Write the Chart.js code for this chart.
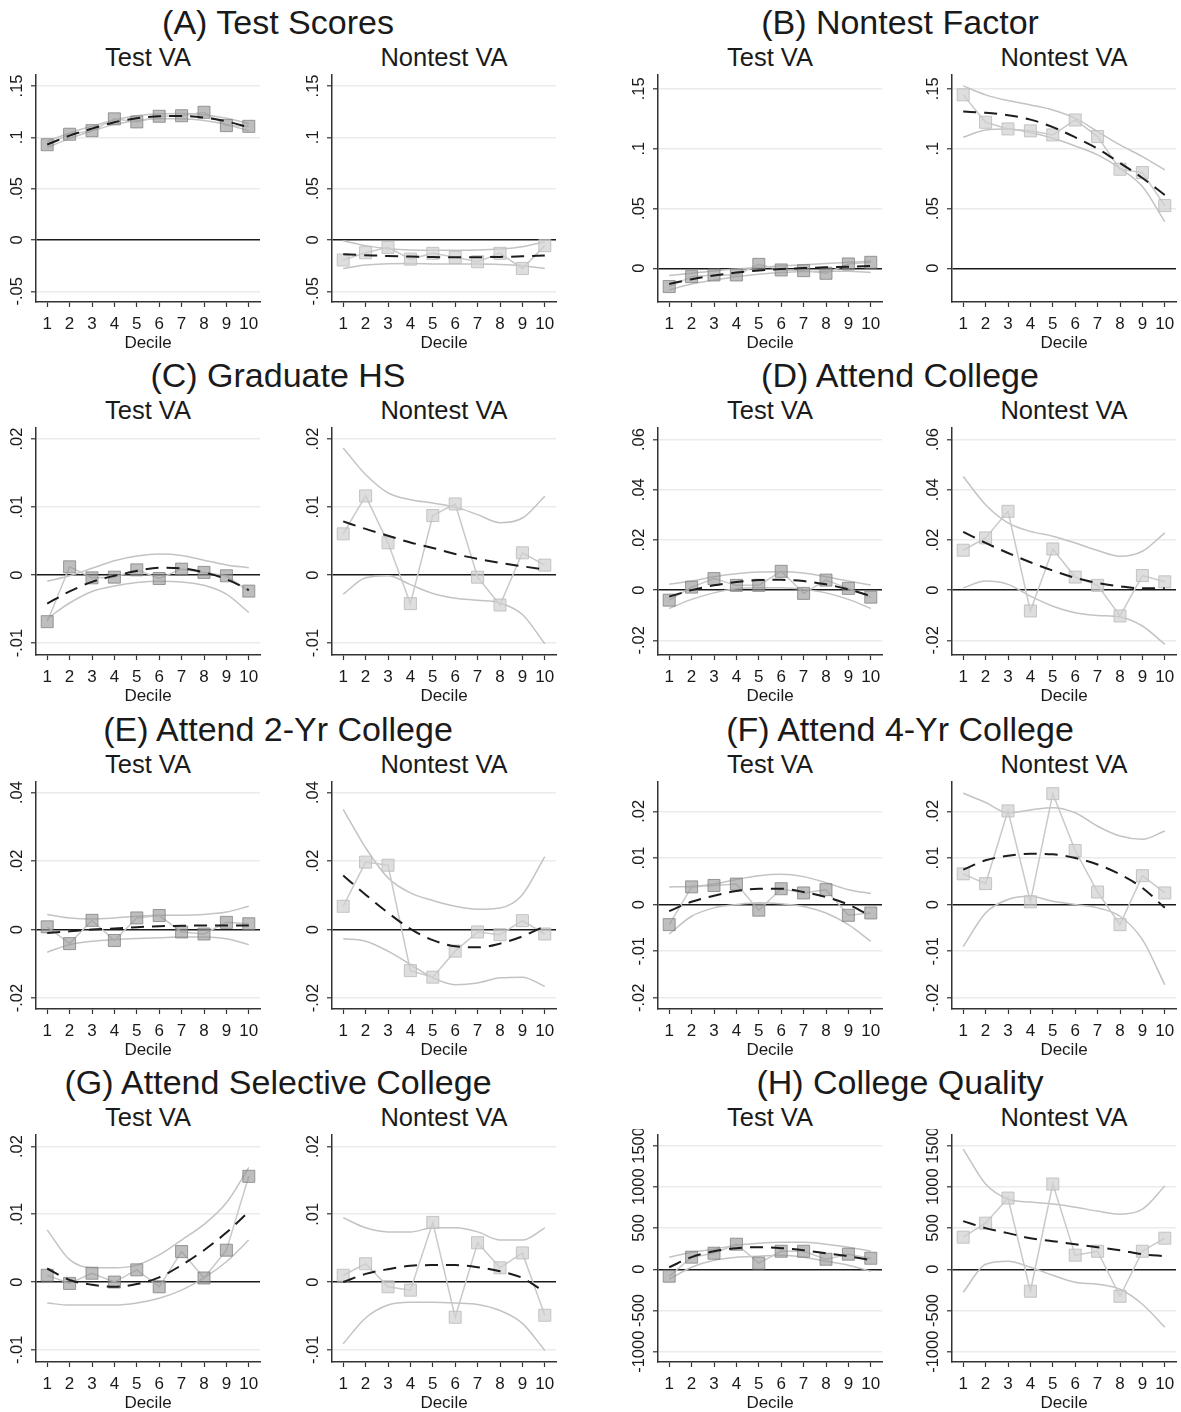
<!DOCTYPE html>
<html>
<head>
<meta charset="utf-8">
<script src="https://cdn.jsdelivr.net/npm/chart.js@4.4.1/dist/chart.umd.min.js"></script>
<style>
  html, body { margin: 0; padding: 0; background: #fff; }
  #page { position: relative; width: 1181px; height: 1412px; overflow: hidden;
          font-family: "Liberation Sans", Arial, sans-serif; color: #1a1a1a; }
  .ttl, .sub { position: absolute; white-space: nowrap; line-height: 1; transform: translate(-50%, -50%); }
  .ttl { font-size: 34px; }
  .sub { font-size: 25.5px; }
  .box { position: absolute; }
  .box canvas { display: block; }
</style>
</head>
<body>
<div id="page"></div>
<script>
// x categories
const deciles = [1, 2, 3, 4, 5, 6, 7, 8, 9, 10];

// (A) Test Scores
const aTicks = [-0.05, 0, 0.05, 0.1, 0.15];
const aTickLabels = ['-.05', '0', '.05', '.1', '.15'];
const aTestPts = [0.0928, 0.1030, 0.1065, 0.1180, 0.1150, 0.1205, 0.1210, 0.1244, 0.1114, 0.1107];
const aTestFit = [0.0930, 0.1016, 0.1085, 0.1147, 0.1186, 0.1205, 0.1207, 0.1192, 0.1155, 0.1098];
const aTestHi  = [0.0960, 0.1042, 0.1108, 0.1168, 0.1210, 0.1230, 0.1233, 0.1220, 0.1185, 0.1133];
const aTestLo  = [0.0900, 0.0990, 0.1062, 0.1126, 0.1162, 0.1180, 0.1181, 0.1164, 0.1125, 0.1063];
const aNonPts = [-0.0195, -0.0124, -0.0072, -0.0186, -0.0130, -0.0169, -0.0212, -0.0130, -0.0277, -0.0055];
const aNonFit = [-0.0140, -0.0148, -0.0156, -0.0162, -0.0166, -0.0168, -0.0168, -0.0165, -0.0159, -0.0150];
const aNonHi  = [-0.0007, -0.0055, -0.0085, -0.0098, -0.0100, -0.0100, -0.0098, -0.0088, -0.0065, -0.0016];
const aNonLo  = [-0.0277, -0.0244, -0.0231, -0.0230, -0.0233, -0.0235, -0.0235, -0.0238, -0.0250, -0.0277];

// (B) Nontest Factor
const bTicks = [0, 0.05, 0.1, 0.15];
const bTickLabels = ['0', '.05', '.1', '.15'];
const bTestPts = [-0.0153, -0.0070, -0.0056, -0.0056, 0.0033, -0.0014, -0.0020, -0.0042, 0.0036, 0.0050];
const bTestFit = [-0.0131, -0.0092, -0.0061, -0.0036, -0.0018, -0.0006, 0.0002, 0.0008, 0.0013, 0.0020];
const bTestHi  = [-0.0061, -0.0042, -0.0022, -0.0006, 0.0008, 0.0020, 0.0030, 0.0039, 0.0050, 0.0061];
const bTestLo  = [-0.0181, -0.0131, -0.0098, -0.0070, -0.0050, -0.0036, -0.0028, -0.0025, -0.0025, -0.0036];
const bNonPts = [0.1450, 0.1221, 0.1165, 0.1149, 0.1115, 0.1240, 0.1101, 0.0828, 0.0800, 0.0524];
const bNonFit = [0.1310, 0.1300, 0.1280, 0.1243, 0.1180, 0.1095, 0.1000, 0.0880, 0.0755, 0.0613];
const bNonHi  = [0.1525, 0.1450, 0.1402, 0.1366, 0.1324, 0.1255, 0.1143, 0.1031, 0.0934, 0.0822];
const bNonLo  = [0.1096, 0.1157, 0.1165, 0.1135, 0.1087, 0.1023, 0.0948, 0.0836, 0.0683, 0.0390];

// (C) Graduate HS
const cTicks = [-0.01, 0, 0.01, 0.02];
const cTickLabels = ['-.01', '0', '.01', '.02'];
const cTestPts = [-0.00685, 0.00122, -0.0004, -0.0003, 0.00078, -0.0005, 0.00088, 0.0004, -0.0001, -0.00235];
const cTestFit = [-0.0042, -0.0024, -0.0010, -0.0001, 0.0006, 0.0011, 0.0010, 0.0004, -0.0006, -0.0022];
const cTestHi  = [-0.0009, -0.0001, 0.0010, 0.0021, 0.0028, 0.0031, 0.0029, 0.0022, 0.0015, 0.0011];
const cTestLo  = [-0.0064, -0.0041, -0.0024, -0.0016, -0.0011, -0.0009, -0.0010, -0.0015, -0.0028, -0.0055];
const cNonPts = [0.00607, 0.01165, 0.00475, -0.0042, 0.00876, 0.01047, -0.0003, -0.0044, 0.00328, 0.00147];
const cNonFit = [0.0079, 0.0068, 0.0058, 0.0048, 0.0040, 0.0031, 0.0024, 0.0018, 0.0013, 0.0008];
const cNonHi  = [0.0187, 0.0148, 0.0121, 0.0111, 0.0106, 0.0100, 0.0089, 0.0077, 0.0084, 0.0116];
const cNonLo  = [-0.0028, -0.0004, -0.0001, -0.0014, -0.0027, -0.0034, -0.0037, -0.0041, -0.0058, -0.0101];

// (D) Attend College
const dTicks = [-0.02, 0, 0.02, 0.04, 0.06];
const dTickLabels = ['-.02', '0', '.02', '.04', '.06'];
const dTestPts = [-0.0040, 0.0012, 0.0046, 0.0019, 0.0019, 0.0075, -0.0013, 0.0040, 0.0007, -0.0028];
const dTestFit = [-0.0026, 0.0000, 0.0019, 0.0032, 0.0040, 0.0041, 0.0036, 0.0023, 0.0003, -0.0024];
const dTestHi  = [0.0023, 0.0036, 0.0053, 0.0065, 0.0072, 0.0073, 0.0068, 0.0053, 0.0036, 0.0020];
const dTestLo  = [-0.0073, -0.0037, -0.0011, 0.0005, 0.0009, 0.0009, 0.0003, -0.0011, -0.0037, -0.0073];
const dNonPts = [0.0159, 0.0208, 0.0314, -0.0083, 0.0164, 0.0052, 0.0019, -0.0103, 0.0058, 0.0033];
const dNonFit = [0.0232, 0.0188, 0.0148, 0.0111, 0.0078, 0.0049, 0.0028, 0.0015, 0.0007, 0.0007];
const dNonHi  = [0.0453, 0.0340, 0.0268, 0.0234, 0.0215, 0.0188, 0.0158, 0.0135, 0.0155, 0.0228];
const dNonLo  = [0.0009, 0.0036, 0.0023, -0.0024, -0.0064, -0.0090, -0.0101, -0.0107, -0.0143, -0.0216];

// (E) Attend 2-Yr College
const eTicks = [-0.02, 0, 0.02, 0.04];
const eTickLabels = ['-.02', '0', '.02', '.04'];
const eTestPts = [0.0008, -0.0041, 0.0027, -0.0032, 0.0034, 0.0041, -0.0007, -0.0013, 0.0021, 0.0017];
const eTestFit = [-0.0010, -0.0005, 0.0000, 0.0003, 0.0007, 0.0010, 0.0011, 0.0012, 0.0012, 0.0012];
const eTestHi  = [0.0044, 0.0034, 0.0031, 0.0034, 0.0039, 0.0042, 0.0042, 0.0044, 0.0051, 0.0068];
const eTestLo  = [-0.0066, -0.0044, -0.0034, -0.0029, -0.0026, -0.0024, -0.0022, -0.0022, -0.0027, -0.0044];
const eNonPts = [0.0068, 0.0197, 0.0188, -0.0120, -0.0139, -0.0063, -0.0007, -0.0015, 0.0026, -0.0013];
const eNonFit = [0.0158, 0.0102, 0.0049, 0.0002, -0.0031, -0.0049, -0.0052, -0.0041, -0.0020, 0.0010];
const eNonHi  = [0.0351, 0.0239, 0.0151, 0.0107, 0.0085, 0.0068, 0.0059, 0.0063, 0.0102, 0.0213];
const eNonLo  = [-0.0027, -0.0034, -0.0063, -0.0102, -0.0141, -0.0161, -0.0156, -0.0141, -0.0139, -0.0166];

// (F) Attend 4-Yr College
const fTicks = [-0.02, -0.01, 0, 0.01, 0.02];
const fTickLabels = ['-.02', '-.01', '0', '.01', '.02'];
const fTestPts = [-0.0043, 0.0038, 0.0041, 0.0044, -0.0012, 0.0034, 0.0025, 0.0032, -0.0023, -0.0018];
const fTestFit = [-0.0014, 0.0006, 0.0019, 0.0029, 0.0034, 0.0034, 0.0027, 0.0016, 0.0000, -0.0025];
const fTestHi  = [0.0038, 0.0039, 0.0044, 0.0054, 0.0062, 0.0065, 0.0060, 0.0047, 0.0032, 0.0024];
const fTestLo  = [-0.0063, -0.0025, -0.0007, 0.0000, 0.0004, 0.0002, -0.0004, -0.0018, -0.0043, -0.0079];
const fNonPts = [0.0066, 0.0045, 0.0201, 0.0006, 0.0238, 0.0116, 0.0027, -0.0043, 0.0062, 0.0025];
const fNonFit = [0.0075, 0.0095, 0.0105, 0.0109, 0.0108, 0.0100, 0.0086, 0.0065, 0.0036, -0.0007];
const fNonHi  = [0.0239, 0.0219, 0.0197, 0.0203, 0.0208, 0.0197, 0.0168, 0.0147, 0.0140, 0.0158];
const fNonLo  = [-0.0090, -0.0018, 0.0011, 0.0018, 0.0007, 0.0000, -0.0007, -0.0025, -0.0075, -0.0172];

// (G) Attend Selective College
const gTicks = [-0.01, 0, 0.01, 0.02];
const gTickLabels = ['-.01', '0', '.01', '.02'];
const gTestPts = [0.0010, -0.0002, 0.0013, 0.0000, 0.0018, -0.0007, 0.0045, 0.0006, 0.0047, 0.0156];
const gTestFit = [0.0020, 0.0003, -0.0004, -0.0007, -0.0003, 0.0007, 0.0025, 0.0047, 0.0073, 0.0104];
const gTestHi  = [0.0077, 0.0033, 0.0021, 0.0021, 0.0025, 0.0040, 0.0062, 0.0085, 0.0117, 0.0169];
const gTestLo  = [-0.0031, -0.0034, -0.0034, -0.0034, -0.0031, -0.0024, -0.0012, 0.0006, 0.0030, 0.0062];
const gNonPts = [0.0010, 0.0027, -0.0007, -0.0012, 0.0088, -0.0052, 0.0058, 0.0021, 0.0043, -0.0049];
const gNonFit = [0.0000, 0.0012, 0.0019, 0.0024, 0.0025, 0.0025, 0.0022, 0.0016, 0.0006, -0.0015];
const gNonHi  = [0.0095, 0.0080, 0.0074, 0.0074, 0.0080, 0.0080, 0.0074, 0.0062, 0.0062, 0.0080];
const gNonLo  = [-0.0091, -0.0053, -0.0034, -0.0030, -0.0030, -0.0031, -0.0033, -0.0042, -0.0061, -0.0101];

// (H) College Quality
const hTicks = [-1000, -500, 0, 500, 1000, 1500];
const hTickLabels = ['-1000', '-500', '0', '500', '1000', '1500'];
const hTestPts = [-85, 146, 194, 303, 73, 218, 218, 121, 182, 133];
const hTestFit = [24, 146, 218, 255, 267, 255, 230, 194, 158, 109];
const hTestHi  = [146, 206, 243, 291, 316, 328, 328, 303, 267, 218];
const hTestLo  = [-121, 24, 109, 146, 158, 170, 146, 97, 49, -24];
const hNonPts = [388, 558, 862, -267, 1032, 170, 218, -328, 218, 376];
const hNonFit = [583, 498, 437, 376, 340, 303, 267, 230, 182, 158];
const hNonHi  = [1456, 1032, 850, 813, 789, 752, 704, 667, 728, 1007];
const hNonLo  = [-279, 61, 97, 24, -73, -158, -182, -243, -425, -704];

const groups = [
  { title: '(A) Test Scores', ticks: aTicks, labels: aTickLabels, yMin: -0.0604, yMax: 0.1607,
    test: [aTestPts, aTestFit, aTestHi, aTestLo], non: [aNonPts, aNonFit, aNonHi, aNonLo] },
  { title: '(B) Nontest Factor', ticks: bTicks, labels: bTickLabels, yMin: -0.0282, yMax: 0.1616,
    test: [bTestPts, bTestFit, bTestHi, bTestLo], non: [bNonPts, bNonFit, bNonHi, bNonLo] },
  { title: '(C) Graduate HS', ticks: cTicks, labels: cTickLabels, yMin: -0.01175, yMax: 0.02164,
    test: [cTestPts, cTestFit, cTestHi, cTestLo], non: [cNonPts, cNonFit, cNonHi, cNonLo] },
  { title: '(D) Attend College', ticks: dTicks, labels: dTickLabels, yMin: -0.02585, yMax: 0.0646,
    test: [dTestPts, dTestFit, dTestHi, dTestLo], non: [dNonPts, dNonFit, dNonHi, dNonLo] },
  { title: '(E) Attend 2-Yr College', ticks: eTicks, labels: eTickLabels, yMin: -0.0232, yMax: 0.0431,
    test: [eTestPts, eTestFit, eTestHi, eTestLo], non: [eNonPts, eNonFit, eNonHi, eNonLo] },
  { title: '(F) Attend 4-Yr College', ticks: fTicks, labels: fTickLabels, yMin: -0.0224, yMax: 0.0263,
    test: [fTestPts, fTestFit, fTestHi, fTestLo], non: [fNonPts, fNonFit, fNonHi, fNonLo] },
  { title: '(G) Attend Selective College', ticks: gTicks, labels: gTickLabels, yMin: -0.0118, yMax: 0.0217,
    test: [gTestPts, gTestFit, gTestHi, gTestLo], non: [gNonPts, gNonFit, gNonHi, gNonLo] },
  { title: '(H) College Quality', ticks: hTicks, labels: hTickLabels, yMin: -1124, yMax: 1626,
    test: [hTestPts, hTestFit, hTestHi, hTestLo], non: [hNonPts, hNonFit, hNonHi, hNonLo] }
];

// page geometry
const FONT = '"Liberation Sans", Arial, sans-serif';
const INK = '#1a1a1a';
const plotLefts = [[36, 332], [658, 952]];
const titleCenters = [278, 900];
const PLOT_W = 224, PLOT_H = 227, ROW_H = 353.3, FIRST_TOP = 75;
const Y_AXIS_W = 36, X_AXIS_H = 52, PAD_T = 6, PAD_R = 4, PAD_B = 2;

// rotated y tick labels, placed from the scale's own tick positions
const yTickLabelPlugin = {
  id: 'yTickLabels',
  afterDraw(chart, args, opts) {
    const s = chart.scales.y, ctx = chart.ctx;
    ctx.save();
    ctx.font = '16.5px ' + FONT;
    ctx.fillStyle = INK;
    ctx.textAlign = 'center';
    ctx.textBaseline = 'middle';
    const x = chart.chartArea.left - 19;
    s.ticks.forEach((t, i) => {
      const y = s.getPixelForValue(t.value);
      ctx.save();
      ctx.translate(x, y);
      ctx.rotate(-Math.PI / 2);
      ctx.fillText(opts.labels[i], 0, 0);
      ctx.restore();
    });
    ctx.restore();
  }
};

const xy = arr => deciles.map((d, i) => ({ x: d, y: arr[i] }));

function addText(cls, text, cx, cy) {
  const d = document.createElement('div');
  d.className = cls;
  d.textContent = text;
  d.style.left = cx + 'px';
  d.style.top = cy + 'px';
  document.getElementById('page').appendChild(d);
}

function makePanel(g, series, isTest, left, top) {
  const [pts, fit, hi, lo] = series;
  const w = PLOT_W + Y_AXIS_W + PAD_R;
  const h = PLOT_H + PAD_T + X_AXIS_H + PAD_B;
  const box = document.createElement('div');
  box.className = 'box';
  box.style.left = (left - Y_AXIS_W) + 'px';
  box.style.top = Math.round(top - PAD_T) + 'px';
  box.style.width = w + 'px';
  box.style.height = h + 'px';
  const cv = document.createElement('canvas');
  cv.width = w; cv.height = h;
  box.appendChild(cv);
  document.getElementById('page').appendChild(box);

  const markerFill = isTest ? 'rgba(150,150,150,0.62)' : 'rgba(208,208,208,0.7)';
  const markerEdge = isTest ? 'rgba(120,120,120,0.7)' : 'rgba(188,188,188,0.85)';
  const smooth = { cubicInterpolationMode: 'monotone', pointRadius: 0, fill: false };

  new Chart(cv, {
    type: 'line',
    data: {
      datasets: [
        Object.assign({ data: xy(fit), borderColor: '#1c1c1c', borderWidth: 2, borderDash: [13, 8] }, smooth),
        { data: xy(pts), borderColor: '#c9c9c9', borderWidth: 1.5, tension: 0,
          pointStyle: 'rect', pointRadius: 8.5, pointBorderWidth: 1,
          pointBackgroundColor: markerFill, pointBorderColor: markerEdge },
        Object.assign({ data: xy(hi), borderColor: '#c3c3c3', borderWidth: 1.5 }, smooth),
        Object.assign({ data: xy(lo), borderColor: '#c3c3c3', borderWidth: 1.5 }, smooth)
      ]
    },
    options: {
      responsive: false,
      animation: false,
      devicePixelRatio: 1,
      events: [],
      layout: { autoPadding: false, padding: { left: 0, top: PAD_T, right: PAD_R, bottom: PAD_B } },
      plugins: { legend: { display: false }, tooltip: { enabled: false }, yTickLabels: { labels: g.labels } },
      scales: {
        x: {
          type: 'linear', min: 0.5, max: 10.5,
          afterBuildTicks: s => { s.ticks = deciles.map(v => ({ value: v })); },
          afterFit: s => { s.height = X_AXIS_H; s.paddingLeft = 0; s.paddingRight = 0; },
          grid: { display: true, drawOnChartArea: false, drawTicks: true, tickLength: 5, tickColor: '#333', tickWidth: 1.2 },
          border: { display: true, color: '#333', width: 1.5 },
          ticks: { font: { size: 17, family: FONT }, color: INK, padding: 7, maxRotation: 0, minRotation: 0,
                   autoSkip: false, callback: v => String(v) },
          title: { display: true, text: 'Decile', font: { size: 17, family: FONT }, color: INK, padding: { top: 0, bottom: 0 } }
        },
        y: {
          type: 'linear', min: g.yMin, max: g.yMax,
          afterBuildTicks: s => { s.ticks = g.ticks.map(v => ({ value: v })); },
          afterFit: s => { s.width = Y_AXIS_W; s.paddingTop = 0; s.paddingBottom = 0; },
          grid: {
            display: true, drawTicks: true, tickLength: 5, tickColor: '#333', tickWidth: 1.2,
            color: c => (c.tick && c.tick.value === 0) ? '#1a1a1a' : '#ebebeb',
            lineWidth: c => (c.tick && c.tick.value === 0) ? 1.4 : 1.6
          },
          border: { display: true, color: '#333', width: 1.5 },
          ticks: { display: false }
        }
      }
    },
    plugins: [yTickLabelPlugin]
  });
}

groups.forEach((g, gi) => {
  const row = Math.floor(gi / 2), col = gi % 2;
  const top = FIRST_TOP + row * ROW_H;
  const [lTest, lNon] = plotLefts[col];
  addText('ttl', g.title, titleCenters[col], top - 53);
  addText('sub', 'Test VA', lTest + PLOT_W / 2, top - 17);
  addText('sub', 'Nontest VA', lNon + PLOT_W / 2, top - 17);
  makePanel(g, g.test, true, lTest, top);
  makePanel(g, g.non, false, lNon, top);
});
</script>
</body>
</html>
